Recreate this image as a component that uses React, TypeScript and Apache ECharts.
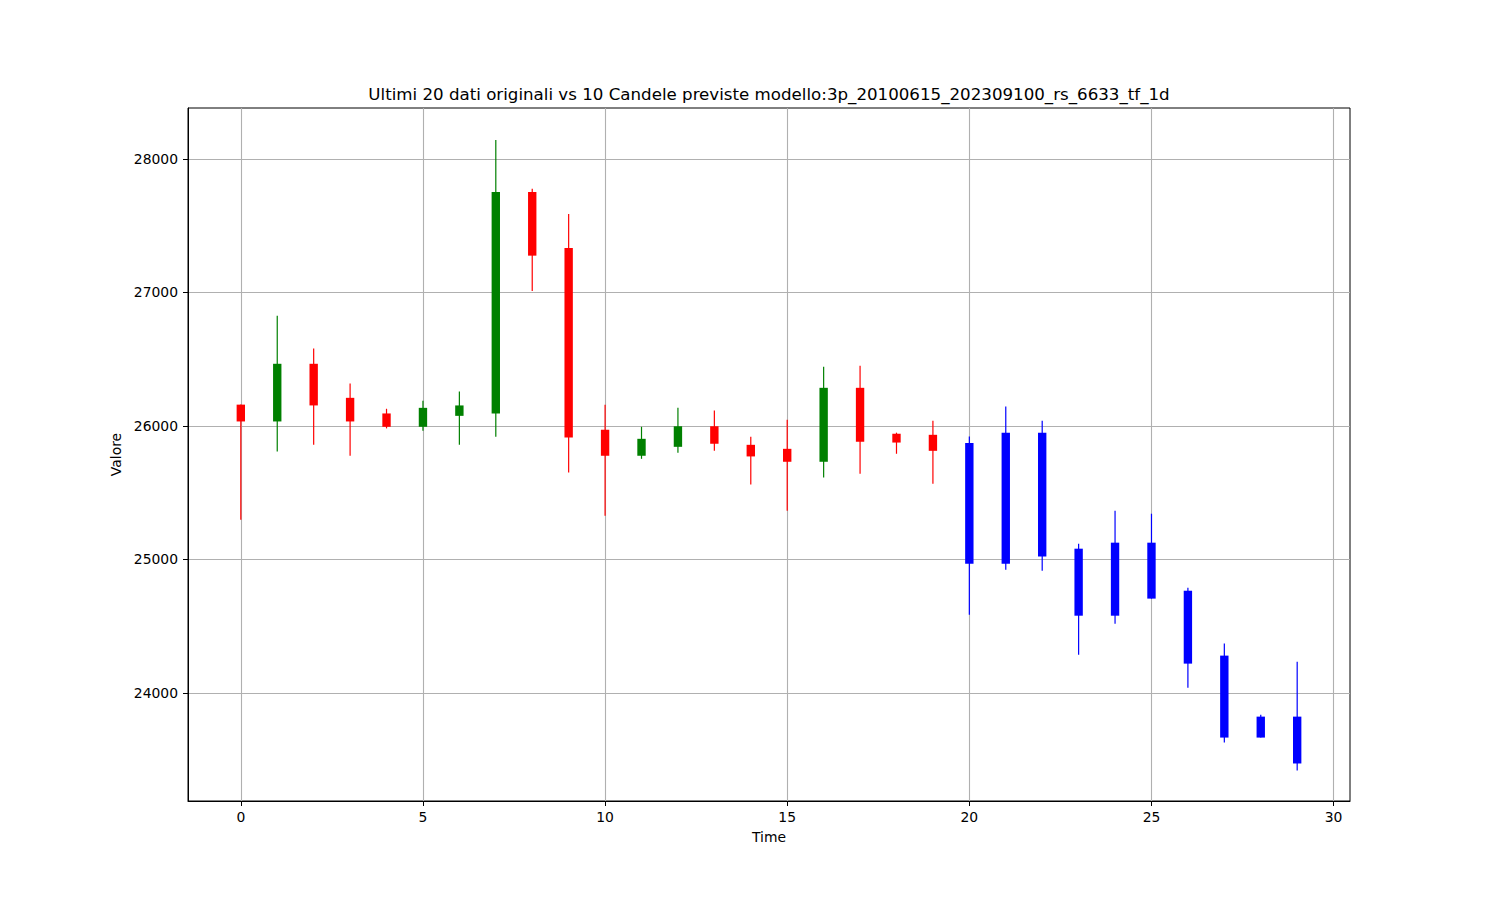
import React, { useEffect, useRef } from "react";
import * as echarts from "echarts";

// Original candles (last 20 real data points)
const origTime = [0, 1, 2, 3, 4, 5, 6, 7, 8, 9, 10, 11, 12, 13, 14, 15, 16, 17, 18, 19];
const origOpen = [26160, 26034, 26466, 26211, 26094, 25994, 26076, 26094, 27753, 27334, 25972, 25777, 25844, 25998, 25859, 25829, 25732, 26286, 25942, 25934];
const origClose = [26034, 26466, 26154, 26034, 25994, 26136, 26154, 27753, 27276, 25914, 25777, 25904, 25998, 25867, 25772, 25732, 26286, 25882, 25876, 25814];
const origLow = [25298, 25809, 25859, 25777, 25982, 25964, 25859, 25919, 27012, 25652, 25328, 25754, 25799, 25814, 25562, 25365, 25615, 25642, 25792, 25567];
const origHigh = [26161, 26825, 26580, 26318, 26129, 26189, 26258, 28142, 27778, 27588, 26159, 25994, 26136, 26116, 25919, 26046, 26443, 26451, 25950, 26039];

// Predicted candles (10)
const predTime = [20, 21, 22, 23, 24, 25, 26, 27, 28, 29];
const predOpen = [25872, 25949, 25949, 25081, 25126, 25126, 24766, 24280, 23823, 23823];
const predClose = [24969, 24969, 25023, 24579, 24579, 24707, 24220, 23666, 23666, 23472];
const predLow = [24587, 24924, 24916, 24287, 24519, 24707, 24040, 23629, 23666, 23419];
const predHigh = [25921, 26146, 26039, 25118, 25365, 25343, 24789, 24370, 23838, 24235];

const xTicks = [0, 5, 10, 15, 20, 25, 30];
const yTicks = [24000, 25000, 26000, 27000, 28000];

const FONT = "DejaVu Sans";

function makeRender(kind: "orig" | "pred") {
  return (params: any, api: any) => {
    const x = api.value(0);
    const o = api.value(1);
    const c = api.value(2);
    const l = api.value(3);
    const h = api.value(4);
    const pL = api.coord([x, l]);
    const pH = api.coord([x, h]);
    const pO = api.coord([x, o]);
    const pC = api.coord([x, c]);
    const w = api.size([0.23, 0])[0];
    const top = Math.min(pO[1], pC[1]);
    const bot = Math.max(pO[1], pC[1]);
    const color = kind === "pred" ? "#0000ff" : c >= o ? "#008000" : "#ff0000";
    return {
      type: "group",
      children: [
        {
          type: "line",
          shape: { x1: pL[0], y1: pL[1], x2: pH[0], y2: pH[1] },
          style: { stroke: color, lineWidth: 1.2 },
        },
        {
          type: "rect",
          shape: { x: pO[0] - w / 2, y: top, width: w, height: Math.max(bot - top, 1) },
          style: { fill: color },
        },
      ],
    };
  };
}

export default function App() {
  const ref = useRef<HTMLDivElement>(null);
  useEffect(() => {
    if (!ref.current) return;
    const chart = echarts.init(ref.current, null, { renderer: "svg" });
    const origData = origTime.map((t, i) => [t, origOpen[i], origClose[i], origLow[i], origHigh[i]]);
    const predData = predTime.map((t, i) => [t, predOpen[i], predClose[i], predLow[i], predHigh[i]]);
    const labelStyle = { color: "#000", fontFamily: FONT, fontSize: 13.9 };
    chart.setOption({
      animation: false,
      backgroundColor: "#fff",
      title: {
        text: "Ultimi 20 dati originali vs 10 Candele previste modello:3p_20100615_202309100_rs_6633_tf_1d",
        left: 764,
        top: 81,
        textAlign: "center",
        textStyle: { fontFamily: FONT, fontSize: 16.67, fontWeight: "normal", color: "#000" },
      },
      grid: {
        left: 188,
        top: 108,
        width: 1162,
        height: 693,
        show: true,
        borderColor: "#000",
        borderWidth: 1,
        backgroundColor: "#fff",
      },
      xAxis: {
        type: "value",
        min: -1.45,
        max: 30.45,
        name: "Time",
        nameLocation: "middle",
        nameGap: 29,
        nameTextStyle: labelStyle,
        axisLine: { show: true, onZero: false, lineStyle: { color: "#000", width: 1 } },
        axisTick: { show: true, customValues: xTicks, length: 5, lineStyle: { color: "#000" } },
        axisLabel: { customValues: xTicks, margin: 9, formatter: (v: number) => String(v), ...labelStyle },
        splitLine: { show: false },
      },
      yAxis: {
        type: "value",
        min: 23191,
        max: 28382,
        name: "Valore",
        nameLocation: "middle",
        nameGap: 48,
        nameTextStyle: labelStyle,
        axisLine: { show: true, onZero: false, lineStyle: { color: "#000", width: 1 } },
        axisTick: { show: true, customValues: yTicks, length: 5, lineStyle: { color: "#000" } },
        axisLabel: { customValues: yTicks, margin: 10, formatter: (v: number) => String(v), ...labelStyle },
        splitLine: { show: false },
      },
      series: [
        {
          type: "line",
          data: [],
          z: 0,
          silent: true,
          markLine: {
            z: 0,
            silent: true,
            symbol: ["none", "none"],
            label: { show: false },
            lineStyle: { color: "#b0b0b0", width: 1.1, type: "solid" },
            emphasis: { disabled: true },
            data: [...xTicks.map((v) => ({ xAxis: v })), ...yTicks.map((v) => ({ yAxis: v }))],
          },
        },
        {
          type: "custom",
          name: "original",
          z: 4,
          renderItem: makeRender("orig"),
          encode: { x: 0, y: [1, 2, 3, 4] },
          data: origData,
        },
        {
          type: "custom",
          name: "predicted",
          z: 4,
          renderItem: makeRender("pred"),
          encode: { x: 0, y: [1, 2, 3, 4] },
          data: predData,
        },
      ],
    });
    return () => chart.dispose();
  }, []);
  return (
    <div
      ref={ref}
      style={{ position: "fixed", left: 0, top: 0, width: 1500, height: 900, background: "#fff" }}
    />
  );
}
